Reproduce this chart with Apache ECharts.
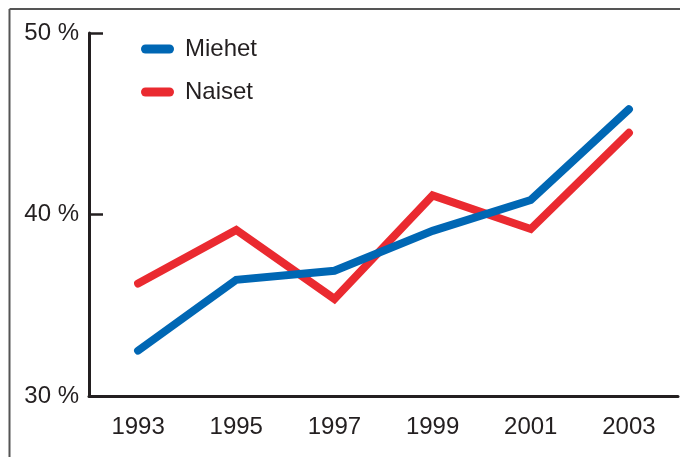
<!DOCTYPE html>
<html>
<head>
<meta charset="utf-8">
<script src="https://cdn.jsdelivr.net/npm/echarts@6/dist/echarts.min.js"></script>
<style>html,body{margin:0;padding:0;background:#fff}#c{width:680px;height:457px}</style>
</head>
<body>
<div id="c"></div>
<script>
const years = ['1993', '1995', '1997', '1999', '2001', '2003'];
const miehet = [32.5, 36.4, 36.9, 39.1, 40.8, 45.8];
const naiset = [36.2, 39.15, 35.35, 41.05, 39.2, 44.5];
const yTicks = [30, 40, 50];

const FONT = '"Liberation Sans", Arial, sans-serif';
const chart = echarts.init(document.getElementById('c'), null, {renderer: 'canvas'});
chart.setOption({
  animation: false,
  backgroundColor: '#fff',
  grid: {left: 89, right: 2, top: 33, bottom: 61, containLabel: false},
  legend: {
    orient: 'vertical', left: 136, top: 32,
    data: ['Miehet', 'Naiset'],
    icon: 'path://M4.5,0 L28.5,0 A4.5,4.5 0 0 1 28.5,9 L4.5,9 A4.5,4.5 0 0 1 4.5,0 Z',
    itemWidth: 33, itemHeight: 9, itemGap: 19,
    textStyle: {fontFamily: FONT, fontSize: 24, color: '#231f20', padding: [0, 0, 0, 6]}
  },
  xAxis: {
    type: 'category', data: years, boundaryGap: true,
    axisLine: {lineStyle: {color: '#231f20', width: 3}},
    axisTick: {inside: true, length: 8, lineStyle: {color: '#231f20', width: 2.5}},
    axisLabel: {margin: 19, fontFamily: FONT, fontSize: 24, color: '#231f20'}
  },
  yAxis: {
    type: 'value', min: 30, max: 50, interval: 10,
    axisLine: {show: true, lineStyle: {color: '#231f20', width: 3}},
    axisTick: {show: true, inside: true, length: 14, lineStyle: {color: '#231f20', width: 2.5}},
    splitLine: {show: false},
    axisLabel: {
      margin: 10, fontFamily: FONT, fontSize: 24, color: '#231f20', padding: [7, 0, 0, 0],
      formatter: v => yTicks.includes(v) ? v + ' %' : ''
    }
  },
  series: [
    {name: 'Naiset', type: 'line', data: naiset, symbol: 'none', z: 2,
     color: '#ea2a30', lineStyle: {width: 8, color: '#ea2a30', cap: 'round', join: 'miter'}},
    {name: 'Miehet', type: 'line', data: miehet, symbol: 'none', z: 3,
     color: '#0067b4', lineStyle: {width: 8, color: '#0067b4', cap: 'round', join: 'miter'}}
  ],
  graphic: [
    {type: 'line', shape: {x1: 9.5, y1: 9, x2: 680, y2: 9}, style: {stroke: '#555', lineWidth: 2}, silent: true},
    {type: 'line', shape: {x1: 9.5, y1: 9, x2: 9.5, y2: 457}, style: {stroke: '#555', lineWidth: 2}, silent: true}
  ]
});
</script>
</body>
</html>
